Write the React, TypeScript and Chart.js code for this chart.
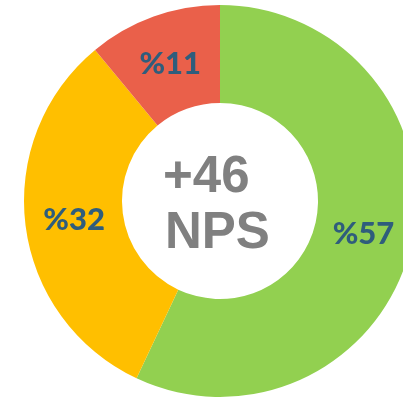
import React, { useEffect, useRef } from "react";
import { Chart, registerables } from "chart.js";

Chart.register(...registerables);

const categories = ["Promoters", "Passives", "Detractors"];
const shares = [57, 32, 11];
const colors = ["#92D050", "#FFBF00", "#EA604A"];
const npsScore = "+46";
const npsLabel = "NPS";

const labelPlugin = {
  id: "sliceLabels",
  afterDatasetsDraw(chart: any) {
    const ctx = chart.ctx;
    const meta = chart.getDatasetMeta(0);
    ctx.save();
    ctx.fillStyle = "#2F5D7C";
    ctx.font = "900 31px Lato";
    ctx.textAlign = "center";
    ctx.textBaseline = "middle";
    meta.data.forEach((arc: any, i: number) => {
      const p = arc.tooltipPosition();
      ctx.fillText("%" + shares[i], p.x, p.y + 1);
    });
    // center text
    const cx = (chart.chartArea.left + chart.chartArea.right) / 2;
    const cy = (chart.chartArea.top + chart.chartArea.bottom) / 2;
    ctx.fillStyle = "#808080";
    ctx.font = "bold 51px 'Liberation Sans'";
    ctx.textAlign = "left";
    ctx.textBaseline = "alphabetic";
    ctx.fillText(npsScore, cx - 57, cy - 9);
    ctx.fillText(npsLabel, cx - 55, cy + 47);
    ctx.restore();
  },
};

export default function App() {
  const ref = useRef<HTMLCanvasElement>(null);
  useEffect(() => {
    document.body.style.margin = "0";
    const chart = new Chart(ref.current!, {
      type: "doughnut",
      data: {
        labels: categories,
        datasets: [
          {
            data: shares,
            backgroundColor: colors,
            borderWidth: 0,
          },
        ],
      },
      options: {
        animation: false,
        responsive: false,
        maintainAspectRatio: false,
        cutout: "50%",
        layout: { padding: { left: 24, right: 24, top: 5, bottom: 3 } },
        plugins: { legend: { display: false }, tooltip: { enabled: false } },
      },
      plugins: [labelPlugin],
    });
    return () => chart.destroy();
  }, []);
  return (
    <div style={{ position: "fixed", left: 0, top: 0, width: 403, height: 400, overflow: "hidden", background: "#fff" }}>
      <canvas ref={ref} width={440} height={400} style={{ display: "block", width: 440, height: 400 }} />
    </div>
  );
}
